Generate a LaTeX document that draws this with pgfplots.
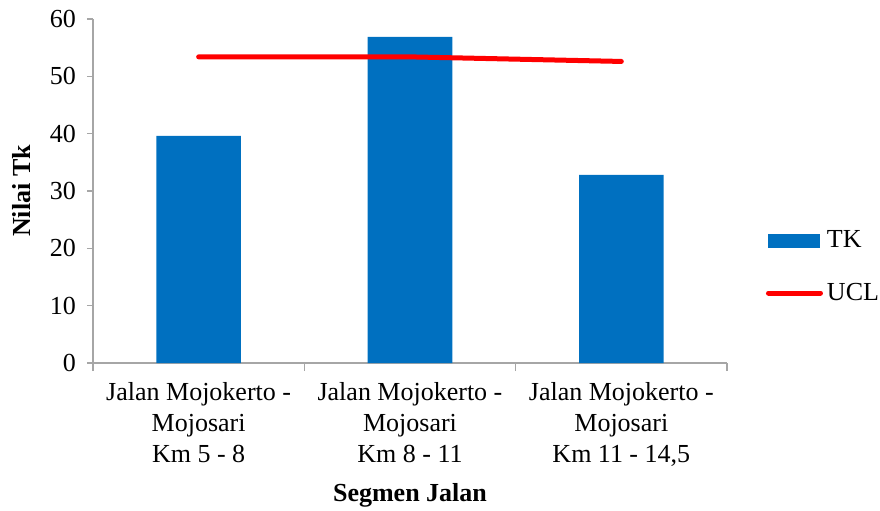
\documentclass[border=0pt]{standalone}
\usepackage{pgfplots}
\pgfplotsset{compat=1.18}
\usepackage{fontspec}
\setmainfont{Liberation Serif}
\definecolor{barblue}{HTML}{0070C0}
\definecolor{axgray}{HTML}{A6A6A6}
\begin{document}
\begin{tikzpicture}[font=\fontsize{13}{15.5}\selectfont]
  \path[use as bounding box] (-46.5pt,-73.5pt) rectangle (393.5pt,181.5pt);
  \begin{axis}
    [
      at={(0pt,0pt)}, anchor=south west,
      scale only axis, width=317pt, height=172pt,
      xmin=0.5, xmax=3.5, ymin=0, ymax=60,
      axis lines*=left, axis line style={draw=axgray, line width=0.8pt},
      tick align=outside,
      xtick={1,2,3},
      xticklabels={{Jalan Mojokerto -\\Mojosari\\Km 5 - 8},
                   {Jalan Mojokerto -\\Mojosari\\Km 8 - 11},
                   {Jalan Mojokerto -\\Mojosari\\Km 11 - 14,5}},
      xticklabel style={align=center, yshift=-3pt},
      major x tick style={draw=none},
      minor xtick={0.5,1.5,2.5,3.5},
      minor x tick style={draw=axgray, line width=0.8pt},
      minor tick length=4pt,
      ytick={0,10,...,60},
      major y tick style={draw=axgray, line width=0.8pt},
      major tick length=3pt,
      /pgf/number format/assume math mode=true,
      yticklabel style={xshift=-2pt},
      xlabel={\textbf{Segmen Jalan}},
      ylabel={\textbf{Nilai Tk}},
      every axis x label/.style={at={([yshift=-66pt]rel axis cs:0.5,0)}, anchor=center},
      every axis y label/.style={at={([xshift=-35.5pt]rel axis cs:0,0.5)}, rotate=90, anchor=center},
      legend style={at={(1.0615,0.279)}, anchor=west, draw=none, fill=none,
                    row sep=12pt, font=\fontsize{13}{15.5}\selectfont,
                    inner sep=0pt, outer sep=0pt},
      legend cell align=left,
      clip=false,
    ]
    \addplot[ybar, bar width=0.4, fill=barblue, draw=none,
             legend image code/.code={\fill[barblue] (0pt,-3.5pt) rectangle (26pt,3.5pt);}]
      coordinates {(1,39.6) (2,56.9) (3,32.8)};
    \addplot[red, line width=2.5pt, line cap=round,
             legend image code/.code={\draw[red, line width=2.5pt, line cap=round] (0pt,0pt) -- (26pt,0pt);}]
      coordinates {(1,53.4) (2,53.4) (3,52.6)};
    \legend{TK, UCL}
  \end{axis}
\end{tikzpicture}
\end{document}
